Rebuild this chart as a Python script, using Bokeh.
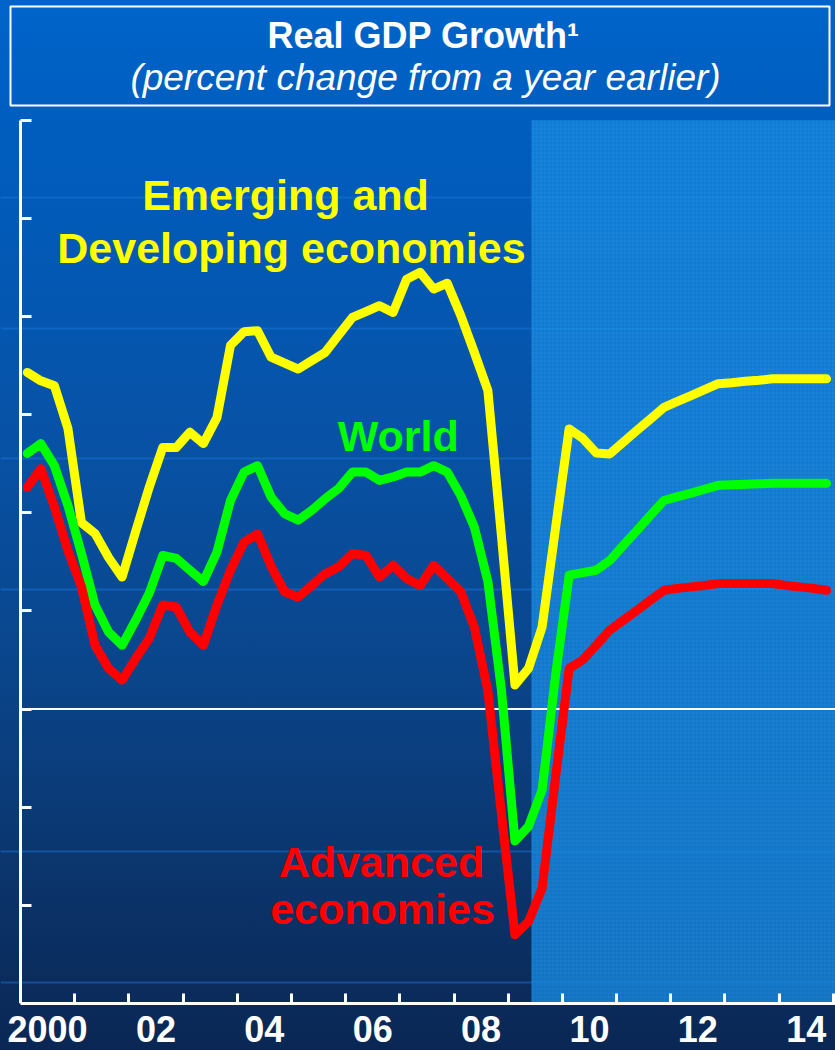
from bokeh.plotting import figure
from bokeh.models import (Range1d, FixedTicker, Span, BoxAnnotation, Label,
                          CustomJSTickFormatter, ColumnDataSource)
from bokeh.embed import file_html
from bokeh.resources import INLINE

# ---------------- data (quarterly, percent change from a year earlier) ----------------
quarters = [2000.125 + 0.25 * k for k in range(60)]

emerging = [6.86, 6.69, 6.59, 5.72, 3.80, 3.58, 3.09, 2.69, 3.62, 4.52,
            5.33, 5.33, 5.64, 5.41, 5.94, 7.41, 7.69, 7.71, 7.17, 7.05,
            6.93, 7.10, 7.27, 7.63, 7.98, 8.10, 8.22, 8.08, 8.76, 8.90,
            8.56, 8.68, 8.02, 7.27, 6.49, 3.53, 0.49, 0.83, 1.67, 3.70,
            5.71, 5.52, 5.22, 5.20, 5.44, 5.68, 5.91, 6.15, 6.27, 6.39,
            6.51, 6.63, 6.65, 6.68, 6.70, 6.73, 6.73, 6.73, 6.73, 6.73]

world = [5.21, 5.41, 4.96, 4.15, 3.17, 2.12, 1.57, 1.30, 1.81, 2.36,
         3.13, 3.07, 2.83, 2.60, 3.20, 4.25, 4.83, 4.96, 4.32, 3.98,
         3.85, 4.05, 4.29, 4.50, 4.83, 4.83, 4.66, 4.73, 4.83, 4.83,
         4.96, 4.83, 4.35, 3.71, 2.60, 0.39, -2.69, -2.39, -1.65, 0.70,
         2.73, 2.78, 2.83, 3.03, 3.34, 3.64, 3.95, 4.25, 4.33, 4.40,
         4.48, 4.56, 4.57, 4.58, 4.59, 4.60, 4.60, 4.60, 4.60, 4.60]

advanced = [4.52, 4.90, 4.12, 3.23, 2.49, 1.30, 0.83, 0.59, 1.03, 1.44,
            2.12, 2.08, 1.57, 1.30, 2.12, 2.83, 3.40, 3.57, 2.91, 2.39,
            2.28, 2.52, 2.76, 2.90, 3.17, 3.13, 2.69, 2.93, 2.66, 2.52,
            2.93, 2.66, 2.39, 1.67, 0.37, -2.14, -4.60, -4.33, -3.65, -1.38,
            0.83, 1.00, 1.30, 1.61, 1.81, 2.01, 2.22, 2.42, 2.46, 2.49,
            2.52, 2.56, 2.56, 2.56, 2.56, 2.56, 2.52, 2.49, 2.46, 2.42]

forecast_start = 2009.43

x_label_pos = [2000.5, 2002.5, 2004.5, 2006.5, 2008.5, 2010.5, 2012.5, 2014.5]
x_labels = ["2000", "02", "04", "06", "08", "10", "12", "14"]
year_bounds = list(range(2001, 2016))
y_ticks = [-6, -4, -2, 0, 2, 4, 6, 8, 10, 12]
y_min, y_max = -6, 12
x_start, x_end = 2000, 2015.04

FONT = "Liberation Sans"

# ---------------- figure ----------------
# frame spans the whole canvas above the x axis; the title sits inside it
p = figure(width=835, height=1050,
           x_range=Range1d(1999.631, x_end), y_range=Range1d(y_min, 14.44),
           output_backend="svg", toolbar_location=None,
           min_border_left=0, min_border_right=0,
           min_border_top=0, min_border_bottom=47)
p.styles = {"background": "linear-gradient(180deg, #0064ca 0%, #005cbc 15%, "
                          "#0753a8 40%, #0a4489 65%, #0b3369 85%, #0a2754 100%)"}
p.border_fill_alpha = 0
p.background_fill_alpha = 0
p.outline_line_color = None
p.grid.visible = False

# decorative template lines
for loc in [806, 675, 545, 414, 152, 21]:
    p.add_layout(Span(location=loc, location_units="screen", dimension="width",
                      line_color="#1d7be0", line_alpha=0.45, line_width=2,
                      level="underlay"))

# forecast shading
p.add_layout(BoxAnnotation(left=forecast_start, top=y_max, fill_color="#1c8fe6",
                           fill_alpha=0.8, hatch_pattern="+", hatch_color="#0b63b8",
                           hatch_alpha=0.35, hatch_scale=4, hatch_weight=1,
                           line_color=None, level="underlay"))

# zero line (from the y axis to the right edge)
p.segment(x0=[x_start], x1=[x_end], y0=[0], y1=[0], line_color="white", line_width=2)

# series
src = ColumnDataSource(dict(q=quarters, em=emerging, w=world, adv=advanced))
for col, color in [("em", "#ffff00"), ("w", "#00ff00"), ("adv", "#ff0000")]:
    p.line("q", col, source=src, line_color=color, line_width=9,
           line_join="round", line_cap="round")

# axes
xa = p.xaxis[0]
xa.bounds = (x_start, x_end)
xa.ticker = FixedTicker(ticks=x_label_pos, minor_ticks=year_bounds)
xa.major_label_overrides = {k: v for k, v in zip(x_label_pos, x_labels)}
xa.major_tick_line_color = None
xa.minor_tick_in = 10
xa.minor_tick_out = 0
xa.minor_tick_line_color = "white"
xa.minor_tick_line_width = 3
xa.axis_line_color = "white"
xa.axis_line_width = 3
xa.major_label_text_color = "white"
xa.major_label_text_font = FONT
xa.major_label_text_font_style = "bold"
xa.major_label_text_font_size = "36px"
xa.major_label_standoff = 6

ya = p.yaxis[0]
ya.fixed_location = x_start
ya.bounds = (y_min, y_max)
ya.ticker = FixedTicker(ticks=y_ticks)
ya.formatter = CustomJSTickFormatter(code="return ''")
ya.major_tick_in = 11
ya.major_tick_out = 0
ya.minor_tick_line_color = None
ya.major_tick_line_color = "white"
ya.major_tick_line_width = 3
ya.axis_line_color = "white"
ya.axis_line_width = 3
ya.major_label_standoff = 0

# series labels
def lab(x, y, text, color):
    p.add_layout(Label(x=x, y=y, text=text, text_color=color, text_font=FONT,
                       text_font_style="bold", text_font_size="43px",
                       text_align="center", text_baseline="alphabetic"))

lab(2004.89, 10.48, "Emerging and", "#ffff00")
lab(2005.0, 9.39, "Developing economies", "#ffff00")
lab(2006.97, 5.56, "World", "#00ff00")
lab(2006.66, -3.12, "Advanced", "#ff0000")
lab(2006.68, -4.07, "economies", "#ff0000")

# title box
p.add_layout(BoxAnnotation(left=10, right=829, bottom=898, top=997,
                           left_units="screen", right_units="screen",
                           bottom_units="screen", top_units="screen",
                           fill_alpha=0, line_color="white", line_alpha=1,
                           line_width=2))
p.add_layout(Label(x=423, y=968, x_units="screen", y_units="screen",
                   text="Real GDP Growth¹", text_color="white", text_font=FONT,
                   text_font_style="bold", text_font_size="36px",
                   text_align="center", text_baseline="alphabetic"))
p.add_layout(Label(x=425, y=926, x_units="screen", y_units="screen",
                   text="(percent change from a year earlier)", text_color="white",
                   text_font=FONT, text_font_style="italic", text_font_size="37px",
                   text_align="center", text_baseline="alphabetic"))

open("out.html", "w").write(file_html(p, INLINE))
